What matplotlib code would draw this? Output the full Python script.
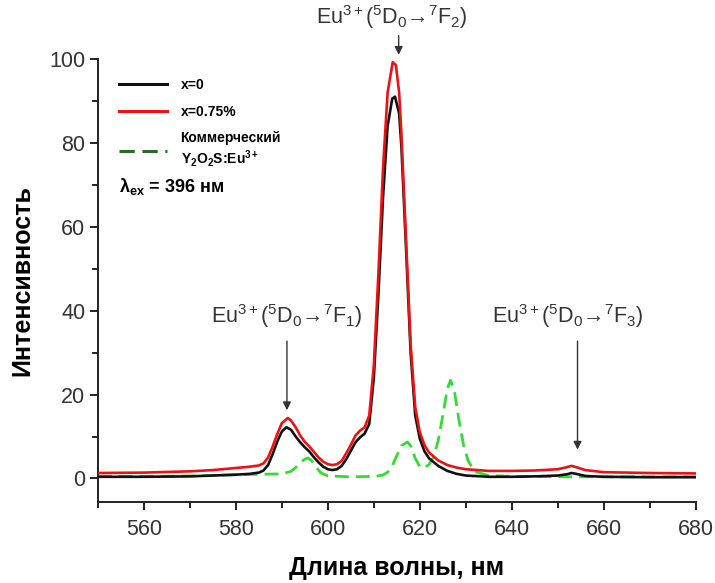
import matplotlib
matplotlib.use("Agg")
import matplotlib.pyplot as plt
import numpy as np

plt.rcParams['font.family'] = ['Liberation Sans', 'DejaVu Sans']
plt.rcParams['mathtext.fontset'] = 'custom'
plt.rcParams['mathtext.rm'] = 'Liberation Sans'
plt.rcParams['mathtext.it'] = 'Liberation Sans:italic'
plt.rcParams['mathtext.bf'] = 'Liberation Sans:bold'

# ---- data ----
wl_black = [550, 560, 570, 575, 580, 583, 585, 586, 587, 588, 589, 590, 591, 592, 593, 594, 595, 596,
            597, 598, 599, 600, 601, 602, 603, 604, 605, 606, 607, 608, 609, 610, 611, 612, 613, 614,
            614.6, 615.5, 616, 617, 618, 619, 620, 621, 622, 624, 626, 628, 630, 635, 640, 645, 650,
            652, 653, 654, 656, 660, 670, 680]
int_black = [0.4, 0.4, 0.5, 0.7, 0.9, 1.1, 1.4, 1.9, 3.2, 5.8, 8.8, 11.2, 12.2, 11.6, 10.0, 8.6, 7.4, 6.4,
             5.0, 3.8, 2.8, 2.2, 2.0, 2.2, 3.0, 4.6, 6.6, 8.6, 9.8, 10.7, 13, 24, 44, 67, 84, 90.5,
             91, 87, 79, 55, 30, 15, 9.5, 6.5, 4.8, 3.0, 1.8, 1.1, 0.7, 0.4, 0.4, 0.5, 0.7,
             1.0, 1.3, 1.1, 0.6, 0.4, 0.3, 0.3]

wl_red = [550, 560, 570, 575, 580, 583, 585, 586, 587, 588, 589, 590, 591.3, 592, 593, 594, 595, 596,
          597, 598, 599, 600, 601, 602, 603, 604, 605, 606, 607, 608, 609, 610, 611, 612, 613, 614.1,
          614.8, 615.5, 616, 617, 618, 619, 620, 621, 622, 624, 626, 628, 630, 635, 640, 645, 650,
          652, 653, 654, 656, 660, 670, 680]
int_red = [1.3, 1.4, 1.7, 2.0, 2.5, 2.8, 3.1, 3.6, 5.0, 7.6, 10.6, 13.2, 14.4, 13.8, 12.2, 10.2, 8.7, 7.6,
           6.3, 5.0, 4.0, 3.4, 3.2, 3.4, 4.2, 6.0, 8.0, 10.2, 11.4, 12.2, 15, 27, 49, 74, 92, 99.2,
           98.5, 92, 82, 57, 32, 17, 11, 8.0, 6.2, 4.3, 3.2, 2.6, 2.2, 1.8, 1.8, 1.9, 2.2,
           2.7, 3.0, 2.7, 2.0, 1.5, 1.3, 1.2]

wl_green = [550, 560, 570, 580, 585, 590, 592, 593, 594, 595, 595.7, 596.5, 597.5, 598.5, 600, 605, 610,
            612, 613, 614, 615, 616, 617.3, 618, 619, 620, 620.8, 622, 623, 624, 625, 626, 626.7,
            627.5, 628.5, 629.5, 630.5, 632, 635, 640, 650, 660, 670, 680]
int_green = [0.5, 0.5, 0.6, 0.9, 1.0, 1.1, 1.7, 2.6, 3.8, 4.6, 4.9, 4.2, 2.6, 1.3, 0.6, 0.4, 0.5,
             0.8, 1.5, 3.0, 5.5, 7.8, 8.7, 7.8, 4.8, 2.8, 2.5, 3.3, 5.2, 9.0, 15, 21.5, 23.4,
             21, 14, 8, 4.2, 1.6, 0.7, 0.5, 0.4, 0.4, 0.4, 0.4]

labels = ['x=0', 'x=0.75%', 'Коммерческий\nY$_\\mathbf{2}$O$_\\mathbf{2}$S:Eu$^\\mathbf{3+}$']
x_ticks = [560, 580, 600, 620, 640, 660, 680]
y_ticks = [0, 20, 40, 60, 80, 100]

# ---- figure ----
fig = plt.figure(figsize=(7.15, 5.83), dpi=100)
ax = fig.add_axes([0.137, 0.139, 0.836, 0.760])

l1, = ax.plot(wl_black, int_black, color='#111111', lw=1.9, label=labels[0], zorder=3)
l2, = ax.plot(wl_red, int_red, color='#ee1111', lw=1.9, label=labels[1], zorder=4)
l3, = ax.plot(wl_green, int_green, color='#33dd33', lw=2.0, ls=(0, (5, 2.5)), label=labels[2], zorder=2)

ax.set_xlim(550, 680)
ax.set_ylim(-5.6, 100)
ax.set_xticks(x_ticks)
ax.set_yticks(y_ticks)
ax.set_xticks(np.arange(550, 681, 10), minor=True)
ax.set_yticks(np.arange(-0, 101, 10), minor=True)
for s in ['top', 'right']:
    ax.spines[s].set_visible(False)
for s in ['left', 'bottom']:
    ax.spines[s].set_linewidth(1.4)
    ax.spines[s].set_color('#222222')
ax.tick_params(which='major', direction='out', length=6, width=1.4, color='#222222',
               labelsize=15.5, labelcolor='#333333')
ax.tick_params(axis='x', which='major', pad=6)
ax.tick_params(axis='y', which='major', pad=3)
ax.tick_params(which='minor', direction='out', length=4, width=1.4, color='#222222')

ax.set_xlabel('Длина волны, нм', fontsize=18, fontweight='bold', labelpad=12)
ax.set_ylabel('Интенсивность', fontsize=18, fontweight='bold', labelpad=11)

leg = ax.legend(loc='upper left', bbox_to_anchor=(0.015, 0.985), frameon=False,
                prop={'weight': 'bold', 'size': 10}, handlelength=3.4, handletextpad=1.0,
                labelspacing=0.9)
leg.legend_handles[2].set_color('#2a6a2a')
for lh in leg.legend_handles:
    lh.set_linewidth(2.2)

ax.text(0.035, 0.711, 'λ$_\\mathbf{ex}$ = 396 нм', transform=ax.transAxes, fontsize=13,
        fontweight='bold', ha='left', va='center')

tcol = '#333333'
ax.text(613.9, 110, 'Eu$^{3+}$($^5$D$_0$→$^7$F$_2$)', fontsize=15.5, color=tcol, ha='center', va='center',
        clip_on=False)
ax.annotate('', xy=(615.4, 100.3), xytext=(615.4, 106.2),
            arrowprops=dict(arrowstyle='-|>', color=tcol, lw=1.0, mutation_scale=12), annotation_clip=False)

ax.text(591.1, 38.7, 'Eu$^{3+}$($^5$D$_0$→$^7$F$_1$)', fontsize=15.5, color=tcol, ha='center', va='center')
ax.annotate('', xy=(591.1, 15.6), xytext=(591.1, 33.4),
            arrowprops=dict(arrowstyle='-|>', color=tcol, lw=1.0, mutation_scale=12))

ax.text(652.2, 38.7, 'Eu$^{3+}$($^5$D$_0$→$^7$F$_3$)', fontsize=15.5, color=tcol, ha='center', va='center')
ax.annotate('', xy=(654.3, 6.2), xytext=(654.3, 33.4),
            arrowprops=dict(arrowstyle='-|>', color=tcol, lw=1.0, mutation_scale=12))

fig.savefig('out.png', dpi=100)
